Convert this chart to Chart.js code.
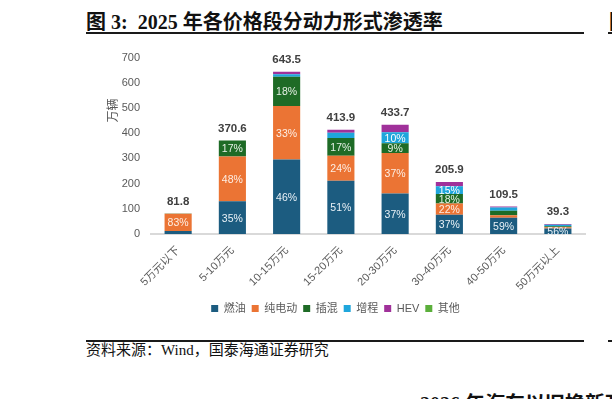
<!DOCTYPE html>
<html>
<head>
<meta charset="utf-8">
<script src="https://cdn.jsdelivr.net/npm/chart.js@4.4.1/dist/chart.umd.min.js"></script>
<style>
  body { margin: 0; width: 612px; height: 399px; background: #fff; position: relative; overflow: hidden; }
  .abs { position: absolute; white-space: nowrap; }
  .title { left: 86px; top: 6px; font: bold 20px "Liberation Serif", "Noto Sans CJK SC", serif; color: #111; }
  .rule { height: 2px; background: #1a1a1a; }
  .src { left: 86px; top: 338px; font: 15px "Liberation Serif", "Noto Sans CJK SC", serif; color: #111; }
  #wrap { position: absolute; left: 86px; top: 40px; width: 510px; height: 290px; }
</style>
</head>
<body>
<div class="abs title">图 3:&nbsp; 2025 年各价格段分动力形式渗透率</div>
<div class="abs rule" style="left:86px;top:32px;width:498px;"></div>
<div class="abs rule" style="left:608px;top:32px;width:4px;"></div>
<div class="abs title" style="left:609px;">图</div>
<div class="abs rule" style="left:86px;top:340px;width:498px;height:1.5px;"></div>
<div class="abs rule" style="left:608px;top:340px;width:4px;height:1.5px;"></div>
<div class="abs src">资料来源：Wind，国泰海通证券研究</div>
<div class="abs title" style="left:420px;top:388px;">2026 年汽车以旧换新政策</div>
<div id="wrap"><canvas id="myChart"></canvas></div>
<script>
const categorias = ["5万元以下", "5-10万元", "10-15万元", "15-20万元", "20-30万元", "30-40万元", "40-50万元", "50万元以上"];
const totales = [81.8, 370.6, 643.5, 413.9, 433.7, 205.9, 109.5, 39.3];

// 各动力形式占比（%）
const ranYou = [15, 35, 46, 51, 37, 37, 59, 56];
const chunDian = [83, 48, 33, 24, 37, 22, 9, 12];
const chaHun = [1, 17, 18, 17, 9, 18, 16, 10];
const zengCheng = [0.5, 0, 1.5, 5, 10, 15, 12, 15];
const hev = [0.5, 0, 1.5, 3, 7, 8, 4, 7];
const qiTa = [0, 0, 0, 0, 0, 0, 0, 0];

const yTicks = [0, 100, 200, 300, 400, 500, 600, 700];

const series = [
  { label: "燃油", pct: ranYou, color: "#1c5c80", text: "#e9f1f6" },
  { label: "纯电动", pct: chunDian, color: "#eb7434", text: "#fdeee4" },
  { label: "插混", pct: chaHun, color: "#1e6b26", text: "#e6f0e6" },
  { label: "增程", pct: zengCheng, color: "#1fa6dc", text: "#ffffff" },
  { label: "HEV", pct: hev, color: "#a0319a", text: "#ffffff" },
  { label: "其他", pct: qiTa, color: "#5baf3b", text: "#ffffff" },
];

const datasets = series.map((s) => ({
  label: s.label,
  data: s.pct.map((p, i) => totales[i] * p / 100),
  backgroundColor: s.color,
  pct: s.pct,
  textColor: s.text,
  barPercentage: 0.5,
  categoryPercentage: 1,
}));

const etiquetas = {
  id: "etiquetas",
  afterDatasetsDraw(chart) {
    const ctx = chart.ctx;
    ctx.save();
    ctx.textAlign = "center";
    ctx.textBaseline = "middle";
    ctx.font = '10.5px "Liberation Sans", Arial, sans-serif';
    chart.data.datasets.forEach((ds, i) => {
      const meta = chart.getDatasetMeta(i);
      meta.data.forEach((bar, j) => {
        if (ds.pct[j] >= 9 && ds.data[j] >= 20) {
          ctx.fillStyle = ds.textColor;
          ctx.fillText(ds.pct[j] + "%", bar.x, (bar.y + bar.base) / 2 + 1);
        }
      });
    });
    const y = chart.scales.y;
    const x = chart.scales.x;
    ctx.font = 'bold 11.5px "Liberation Sans", Arial, sans-serif';
    ctx.fillStyle = "#404040";
    totales.forEach((t, j) => {
      ctx.fillText(t.toFixed(1), x.getPixelForValue(j), y.getPixelForValue(t) - 12);
    });
    // 纵轴标题
    ctx.font = '12px "Noto Sans CJK SC", sans-serif';
    ctx.fillStyle = "#595959";
    ctx.translate(y.left + 26, y.getPixelForValue(490));
    ctx.rotate(-Math.PI / 2);
    ctx.fillText("万辆", 0, 0);
    ctx.restore();
  },
};

Chart.defaults.font.family = '"Liberation Sans", "Noto Sans CJK SC", sans-serif';
Chart.defaults.color = "#595959";

const chart = document.getElementById("myChart");
const myChart = new Chart(chart, {
  type: "bar",
  data: { labels: categorias, datasets },
  plugins: [etiquetas],
  options: {
    responsive: true,
    maintainAspectRatio: false,
    animation: false,
    layout: { padding: { top: 12, right: 11, left: 0, bottom: 6 } },
    plugins: {
      legend: {
        position: "bottom",
        labels: { boxWidth: 7, boxHeight: 7, padding: 6, font: { size: 11 }, color: "#595959" },
      },
      tooltip: { enabled: false },
    },
    scales: {
      x: {
        stacked: true,
        grid: { display: false },
        border: { color: "#d9d9d9", width: 2 },
        ticks: { maxRotation: 45, minRotation: 45, font: { size: 11 }, color: "#595959", padding: 2 },
        afterFit: (s) => { s.height = 63; },
      },
      y: {
        stacked: true,
        min: 0,
        max: 700,
        afterBuildTicks: (s) => { s.ticks = yTicks.map((v) => ({ value: v })); },
        grid: { display: false, drawTicks: false },
        border: { display: false },
        ticks: { font: { size: 11 }, color: "#595959", padding: 11 },
        afterFit: (s) => { s.width = 65; },
      },
    },
  },
});
</script>
</body>
</html>
